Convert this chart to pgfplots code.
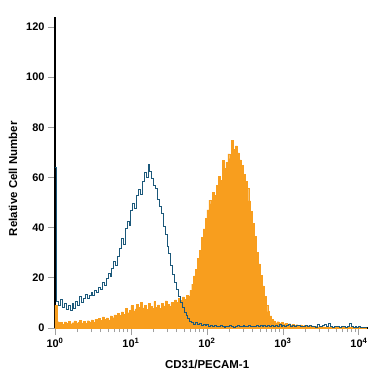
\documentclass[border=0pt]{standalone}
\usepackage{fontspec}
\setmainfont{Liberation Sans}
\usepackage{pgfplots}
\usepackage{pgfplotstable}
\pgfplotsset{compat=1.18}
\definecolor{orangeC}{RGB}{248,158,30}
\definecolor{blueC}{RGB}{27,88,122}
\pgfplotstableread{
x y
0.000 9.0
0.025 2.5
0.050 1.8
0.075 2.2
0.100 1.5
0.125 2.4
0.150 1.9
0.175 2.6
0.200 1.7
0.225 2.1
0.250 2.8
0.275 1.9
0.300 2.3
0.325 3.0
0.350 2.0
0.375 2.6
0.400 1.8
0.425 2.9
0.450 2.4
0.475 3.2
0.500 2.2
0.525 3.5
0.550 2.7
0.575 3.9
0.600 3.0
0.625 4.4
0.650 3.4
0.675 4.0
0.700 3.2
0.725 4.8
0.750 4.1
0.775 5.2
0.800 4.5
0.825 5.9
0.850 5.0
0.875 6.4
0.900 5.4
0.925 7.8
0.950 6.1
0.975 7.0
1.000 8.9
1.025 6.8
1.050 7.6
1.075 9.5
1.100 8.2
1.125 10.2
1.150 8.0
1.175 9.1
1.200 7.5
1.225 9.8
1.250 8.6
1.275 7.9
1.300 10.5
1.325 8.3
1.350 9.2
1.375 7.8
1.400 9.9
1.425 8.8
1.450 10.8
1.475 9.4
1.500 8.6
1.525 10.1
1.550 9.0
1.575 11.2
1.600 10.3
1.625 11.8
1.650 10.9
1.675 12.4
1.700 11.5
1.725 13.1
1.750 12.8
1.775 15.0
1.800 17.5
1.825 20.8
1.850 23.5
1.875 27.9
1.900 31.0
1.925 36.2
1.950 39.5
1.975 43.8
2.000 47.1
2.025 51.0
2.050 49.5
2.075 54.2
2.100 53.0
2.125 56.8
2.150 60.5
2.175 58.9
2.200 66.8
2.225 63.7
2.250 66.1
2.275 69.4
2.300 67.5
2.325 74.8
2.350 71.2
2.375 72.6
2.400 69.8
2.425 67.0
2.450 64.9
2.475 61.3
2.500 58.5
2.525 55.6
2.550 50.7
2.575 46.4
2.600 41.8
2.625 36.5
2.650 30.2
2.675 25.6
2.700 21.0
2.725 16.8
2.750 12.5
2.775 9.1
2.800 6.5
2.825 4.8
2.850 3.4
2.875 2.8
2.900 2.1
2.925 2.5
2.950 1.8
2.975 2.2
3.000 1.6
3.025 1.9
3.050 1.4
3.075 1.7
3.100 1.2
3.125 1.5
3.150 1.1
3.175 1.3
3.200 0.9
3.225 1.2
3.250 0.8
3.275 1.0
3.300 0.7
3.325 0.9
3.350 0.6
3.375 0.8
3.400 0.5
3.425 0.7
3.450 0.4
3.475 0.6
3.500 0.3
3.525 0.5
3.550 0.3
3.575 0.4
3.600 0.2
3.625 0.3
3.650 0.2
3.700 0.2
3.800 0.2
3.900 0.2
4.000 0.2
4.100 0.2
}\orangedata
\pgfplotstableread{
x y
0.000 64.0
0.025 10.5
0.050 9.0
0.075 11.2
0.100 8.1
0.125 9.6
0.150 7.4
0.175 8.8
0.200 7.0
0.225 9.9
0.250 7.8
0.275 10.6
0.300 9.1
0.325 12.4
0.350 10.2
0.375 11.8
0.400 13.5
0.425 11.6
0.450 12.9
0.475 14.2
0.500 13.0
0.525 15.1
0.550 14.0
0.575 16.3
0.600 15.2
0.625 18.0
0.650 17.1
0.675 19.6
0.700 21.8
0.725 20.5
0.750 23.9
0.775 26.4
0.800 25.0
0.825 28.7
0.850 31.5
0.875 35.8
0.900 33.2
0.925 39.6
0.950 42.5
0.975 40.8
1.000 46.9
1.025 49.5
1.050 47.6
1.075 52.8
1.100 55.1
1.125 53.4
1.150 58.6
1.175 61.9
1.200 60.2
1.225 65.0
1.250 62.3
1.275 59.8
1.300 57.0
1.325 55.6
1.350 51.2
1.375 48.5
1.400 45.7
1.425 40.6
1.450 37.1
1.475 32.4
1.500 29.6
1.525 25.0
1.550 21.3
1.575 18.2
1.600 15.4
1.625 12.6
1.650 10.1
1.675 8.2
1.700 6.3
1.725 4.9
1.750 3.7
1.775 2.6
1.800 2.1
1.825 1.5
1.850 2.3
1.875 1.2
1.900 1.8
1.925 0.9
1.950 1.4
1.975 0.8
2.000 1.2
2.025 0.6
2.050 0.9
2.075 0.5
2.100 1.1
2.125 0.6
2.150 0.4
2.175 0.8
2.200 0.5
2.225 0.3
2.250 0.7
2.275 0.4
2.300 0.9
2.325 0.5
2.350 0.3
2.375 0.6
2.400 0.8
2.425 0.4
2.450 0.5
2.475 0.9
2.500 0.4
2.525 0.6
2.550 1.0
2.575 0.5
2.600 0.7
2.625 0.4
2.650 0.9
2.675 0.5
2.700 0.8
2.725 0.4
2.750 1.0
2.775 0.6
2.800 0.9
2.825 0.5
2.850 1.1
2.875 0.6
2.900 0.8
2.925 0.5
2.950 1.2
2.975 0.7
3.000 0.9
3.025 0.5
3.050 0.8
3.075 1.2
3.100 0.6
3.125 0.9
3.150 0.4
3.175 0.8
3.200 1.1
3.225 0.5
3.250 0.7
3.275 0.4
3.300 0.9
3.325 0.5
3.350 1.0
3.375 0.4
3.400 0.7
3.425 0.3
3.450 1.2
3.475 0.5
3.500 0.4
3.525 0.8
3.550 1.4
3.575 0.5
3.600 1.6
3.625 0.4
3.650 0.3
3.675 0.6
3.700 0.4
3.725 0.5
3.750 0.3
3.775 0.4
3.800 0.6
3.825 0.3
3.850 0.4
3.875 1.8
3.900 0.6
3.925 0.3
3.950 0.4
3.975 0.3
4.000 0.4
4.025 0.3
4.050 0.2
4.075 0.3
4.100 0.2
}\bluedata
\begin{document}
\begin{tikzpicture}
\useasboundingbox (-55bp,-47bp) rectangle (320bp,328bp);
\begin{axis}[
  at={(0,0)}, anchor=south west,
  scale only axis, width=313bp, height=311bp,
  xmin=0, xmax=4.12, ymin=0, ymax=124,
  axis lines=left,
  axis line style={-, black, line width=1.1bp},
  xtick={0,1,2,3,4},
  xticklabels={10\textsuperscript{0},10\textsuperscript{1},10\textsuperscript{2},10\textsuperscript{3},10\textsuperscript{4}},
  minor xtick={0.301,0.477,0.602,0.699,0.778,0.845,0.903,0.954,
    1.301,1.477,1.602,1.699,1.778,1.845,1.903,1.954,
    2.301,2.477,2.602,2.699,2.778,2.845,2.903,2.954,
    3.301,3.477,3.602,3.699,3.778,3.845,3.903,3.954},
  ytick={0,20,40,60,80,100,120},
  tick align=outside,
  major tick length=7bp, minor tick length=4bp,
  every tick/.style={gray!75, line width=0.8bp},
  /pgf/number format/assume math mode=true,
  tick label style={font=\fontsize{11}{13}\selectfont\bfseries},
  xlabel={CD31/PECAM-1},
  ylabel={Relative Cell Number},
  xlabel style={at={(axis description cs:0.486,-0.116)}, anchor=center, font=\fontsize{11.5}{13}\selectfont\bfseries},
  ylabel style={at={(axis description cs:-0.134,0.48)}, anchor=center, font=\fontsize{11.5}{13}\selectfont\bfseries},
  clip=true,
]
\addplot[const plot, fill=orangeC, draw=orangeC, line width=0.4bp] table[x=x,y=y]{\orangedata} \closedcycle;
\addplot[const plot, blueC, line width=1bp] table[x=x,y=y]{\bluedata};
\end{axis}
\end{tikzpicture}
\end{document}
